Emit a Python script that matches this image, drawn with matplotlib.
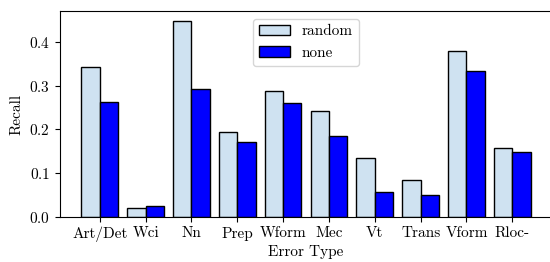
import matplotlib
matplotlib.use("Agg")
import matplotlib.pyplot as plt
import numpy as np

categories = ["Art/Det", "Wci", "Nn", "Prep", "Wform", "Mec", "Vt", "Trans", "Vform", "Rloc-"]
random_vals = [0.343, 0.021, 0.449, 0.194, 0.288, 0.243, 0.134, 0.084, 0.380, 0.158]
none_vals = [0.263, 0.025, 0.293, 0.171, 0.260, 0.184, 0.057, 0.050, 0.334, 0.149]

plt.rcParams['font.family'] = 'serif'
plt.rcParams['font.serif'] = ['cmr10', 'DejaVu Serif']
plt.rcParams['mathtext.fontset'] = 'cm'
plt.rcParams['axes.formatter.use_mathtext'] = True
plt.rcParams['font.size'] = 11

fig = plt.figure(figsize=(5.5, 2.62), dpi=100)
ax = fig.add_axes([0.109, 0.172, 0.895, 0.786])

x = np.arange(len(categories))
w = 0.4
ax.bar(x - w/2, random_vals, w, color='#cfe2f1', edgecolor='black', linewidth=1, label='random')
ax.bar(x + w/2, none_vals, w, color='#0000ff', edgecolor='black', linewidth=1, label='none')

ax.set_xticks(x)
ax.set_xticklabels(categories)
ax.set_xlim(-0.87, 9.87)
ax.set_ylim(0, 0.471)
ax.set_yticks([0.0, 0.1, 0.2, 0.3, 0.4])
ax.set_xlabel('Error Type', labelpad=2)
ax.set_ylabel('Recall')
ax.legend(loc='upper center', fontsize=11)

fig.savefig('out.png', dpi=100)
